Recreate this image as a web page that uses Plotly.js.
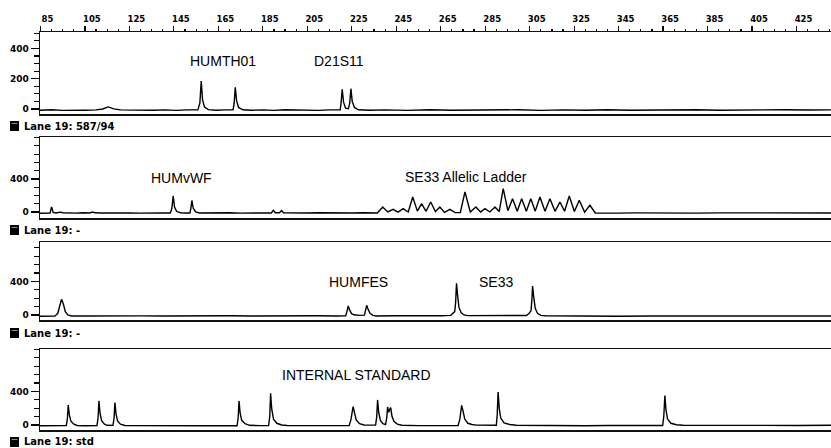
<!DOCTYPE html>
<html>
<head>
<meta charset="utf-8">
<script src="https://cdn.plot.ly/plotly-3.0.1.min.js"></script>
<style>
html,body{margin:0;padding:0;background:#fff;}
#chart{width:831px;height:448px;}
</style>
</head>
<body>
<div id="chart"></div>
<script>
// ---- Data (x = size in bp, y = signal) ----
const xTickVals = [85, 105, 125, 145, 165, 185, 205, 225, 245, 265, 285, 305, 325, 345, 365, 385, 405, 425];
const xTickText = ["85", "105", "125", "145", "165", "185", "205", "225", "245", "265", "285", "305", "325", "345", "365", "385", "405", "425"];
const y1TickVals = [0, 200, 400];
const yTickVals = [0, 400];

const laneLabels = ["Lane 19: 587/94", "Lane 19: -", "Lane 19: -", "Lane 19: std"];
const locusNames = ["HUMTH01", "D21S11", "HUMvWF", "SE33 Allelic Ladder", "HUMFES", "SE33", "INTERNAL STANDARD"];
const locusX = [167.1, 219.2, 148.6, 276.5, 227.8, 290.0, 227.1];
const locusY = [317, 317, 411, 424, 395, 395, 595];
const locusPanel = [1, 1, 2, 2, 3, 3, 4];

const lane1 = [[84.8,-8],[90,-5],[95,-9],[100,-6],[105,-8],[110,-6],[113,0],[115.5,14],[118,1],[121,-6],[126,-8],[131,-5],[136,-8],[141,-6],[146,-9],[151,-6],[155.8,-6],[156.7,40],[157.3,185],[157.9,60],[158.8,12],[160.5,-4],[164,-8],[168,-6],[171.6,-6],[172.1,35],[172.6,143],[173.2,55],[174.1,10],[176,-5],[180,-8],[185,-6],[190,-9],[195,-5],[200,-8],[205,-6],[210,-9],[215,-6],[219.8,-5],[220.2,40],[220.7,130],[221.3,45],[222.2,5],[223.5,2],[224.1,40],[224.6,134],[225.2,50],[226.2,10],[228,-5],[233,-8],[240,-6],[250,-9],[260,-5],[270,-8],[280,-6],[290,-8],[300,-5],[310,-9],[320,-6],[330,-8],[340,-5],[350,-8],[360,-6],[370,-9],[380,-5],[390,-8],[400,-6],[410,-9],[420,-5],[430,-7],[440.5,-6]];

const lane2 = [[84.8,-15],[87,-12],[89.3,-14],[90,60],[90.7,-5],[92,-12],[94,-2],[95,-10],[97,-13],[99,-8],[101,-14],[104,-10],[107,-12],[108.5,0],[109.5,-10],[112,-13],[116,-10],[120,-14],[125,-11],[130,-14],[135,-10],[140,-13],[143.4,-13],[144.1,45],[144.7,194],[145.3,60],[146.3,5],[148,-10],[150,-12],[152.2,-12],[152.6,35],[153.1,139],[153.7,45],[154.8,0],[156.5,-12],[160,-10],[165,-13],[170,-10],[175,-14],[180,-11],[185,-13],[188.8,-12],[189.7,20],[190.6,-10],[192.5,-10],[193.4,18],[194.3,-10],[197,-12],[200,-9],[205,-13],[210,-10],[215,-14],[220,-11],[225,-13],[230,-10],[236.5,-12],[238.9,60],[241.2,0],[243.6,32],[245.8,-2],[248.1,40],[250.4,0],[252.4,181],[254.5,10],[256.4,100],[258.4,8],[260.5,121],[262.6,5],[264.6,60],[266.7,-5],[269.1,32],[271.5,-8],[273.8,-8],[275.9,242],[278.3,0],[280.8,60],[282.9,0],[284.9,40],[287.1,0],[289.4,60],[291.3,5],[293.1,282],[295.2,15],[297.3,161],[299.4,10],[301.4,161],[303.5,10],[305.5,161],[307.5,10],[309.6,181],[311.9,10],[314.1,161],[316.4,8],[318.6,121],[320.7,8],[322.8,194],[325.1,5],[327.3,141],[329.7,-2],[332.1,81],[334.5,-12],[338,-10],[345,-14],[352,-11],[360,-13],[370,-10],[380,-14],[390,-11],[400,-13],[410,-10],[420,-12],[430,-10],[440.5,-12]];

const lane3 = [[84.8,-15],[88,-12],[91.5,-14],[92.8,20],[93.7,110],[94.5,187],[95.3,130],[96.2,40],[97.3,0],[99,-12],[105,-13],[112,-10],[120,-14],[130,-11],[140,-13],[150,-10],[160,-12],[170,-10],[180,-13],[190,-10],[200,-12],[210,-10],[218,-12],[222.3,-10],[222.8,40],[223.4,107],[224,60],[224.9,15],[226,2],[228.5,-5],[230.7,-2],[231.2,50],[231.7,115],[232.3,70],[233.2,20],[234.5,-5],[236,-12],[245,-10],[255,-13],[265,-10],[269.5,-5],[270.6,25],[271.3,40],[271.7,150],[272.1,377],[272.6,230],[273.2,90],[274.2,25],[275.5,0],[277,-8],[285,-10],[292,-8],[300,-10],[303.5,-6],[304.8,20],[305.6,50],[306.0,180],[306.3,345],[306.8,220],[307.5,80],[308.5,20],[310,-5],[312,-10],[320,-13],[330,-12],[345,-15],[360,-12],[380,-14],[400,-12],[420,-14],[440.5,-12]];

const lane4 = [[84.8,-10],[90,-8],[95,-10],[96.6,-8],[97.1,70],[97.5,238],[98,120],[98.7,45],[100,10],[101.5,-6],[105,-9],[110.4,-8],[110.9,80],[111.3,286],[111.8,140],[112.5,50],[113.8,10],[115,-4],[117.6,-5],[118.1,80],[118.5,266],[119,130],[119.7,45],[121,10],[123,-6],[130,-8],[140,-10],[150,-8],[160,-10],[170,-8],[173.4,-10],[173.9,80],[174.3,286],[174.8,140],[175.5,55],[177,15],[179,-4],[184,-8],[187.6,-8],[188.1,100],[188.5,377],[189,190],[189.8,70],[191.3,20],[193.5,0],[196,-6],[205,-8],[215,-10],[223.8,-8],[224.6,60],[225.1,170],[225.6,218],[226.2,150],[227,60],[228.5,15],[230.5,0],[235.7,-2],[236.2,90],[236.6,298],[237.1,150],[237.9,50],[239,15],[240.2,5],[240.7,80],[241.1,214],[241.6,150],[242.0,180],[242.5,206],[243.1,100],[244,40],[245.5,10],[247.5,-4],[255,-8],[265,-6],[272.8,-6],[273.6,70],[274.0,190],[274.4,234],[275,170],[275.8,70],[277.2,20],[279,5],[281,-2],[288.5,-5],[290,-4],[290.4,120],[290.8,393],[291.3,200],[292,80],[293.5,25],[296,5],[299,-4],[310,-8],[320,-6],[330,-9],[340,-6],[350,-8],[360,-7],[364.8,-6],[365.3,100],[365.8,349],[366.3,180],[367,70],[368.5,20],[371,3],[374,-4],[385,-6],[395,-4],[405,-7],[415,-3],[425,-6],[440.5,-4]];

// ---- Layout helpers (pixel geometry of the page) ----
const W = 831, H = 448, ML = 40, MT = 32, MB = 18;
const plotH = H - MT - MB;
const plotW = W - ML;
const py = p => (H - MB - p) / plotH;
const px = p => (p - ML) / plotW;

const lanes = [lane1, lane2, lane3, lane4];
const traces = lanes.map((pts, i) => ({
  type: 'scatter', mode: 'lines',
  x: pts.map(p => p[0]), y: pts.map(p => p[1]),
  xaxis: i === 0 ? 'x' : 'x' + (i + 1),
  yaxis: i === 0 ? 'y' : 'y' + (i + 1),
  line: {color: '#000', width: 1.4},
  hoverinfo: 'skip', showlegend: false
}));

const tickFont = {family: 'DejaVu Sans', size: 9, weight: 'bold', color: '#000'};
const xRange = [84.8, 440.5];

const baseX = {
  range: xRange, showline: true, linecolor: '#111', linewidth: 1.5, mirror: true,
  showgrid: false, zeroline: false
};
const layout = {
  width: W, height: H,
  margin: {l: ML, r: 0, t: MT, b: MB, pad: 0},
  paper_bgcolor: '#fff', plot_bgcolor: '#fff',
  showlegend: false,
  xaxis: Object.assign({}, baseX, {
    anchor: 'y', side: 'top', tickmode: 'array', tickvals: xTickVals, ticktext: xTickText,
    ticks: 'outside', ticklen: 5, tickcolor: '#000', tickwidth: 1.2,
    tickfont: {family: 'DejaVu Sans', size: 8.5, weight: 'bold', color: '#000'},
    ticklabelshift: 7, ticklabelstandoff: 0,
    minor: {tickmode: 'linear', tick0: 85, dtick: 5, ticks: 'outside', ticklen: 2, tickcolor: '#000', tickwidth: 1.2}
  }),
  xaxis2: Object.assign({}, baseX, {anchor: 'y2', matches: 'x', showticklabels: false, ticks: ''}),
  xaxis3: Object.assign({}, baseX, {anchor: 'y3', matches: 'x', showticklabels: false, ticks: ''}),
  xaxis4: Object.assign({}, baseX, {anchor: 'y4', matches: 'x', showticklabels: false, ticks: ''}),
  annotations: [], shapes: []
};

const yDomains = [[py(114), py(32)], [py(218), py(137)], [py(320), py(242)], [0, py(349)]];
const yRanges = [[-33, 508], [-73, 907], [-60, 869], [-60, 904]];
for (let i = 0; i < 4; i++) {
  const key = i === 0 ? 'yaxis' : 'yaxis' + (i + 1);
  layout[key] = {
    domain: yDomains[i], range: yRanges[i], anchor: i === 0 ? 'x' : 'x' + (i + 1),
    tickmode: 'array', tickvals: i === 0 ? y1TickVals : yTickVals,
    ticks: 'outside', ticklen: 8, tickcolor: '#000', tickwidth: 1.2, tickfont: tickFont,
    showline: true, linecolor: '#111', linewidth: 1.5, showgrid: false, zeroline: false,
    minor: {tickmode: 'linear', tick0: 0, dtick: i === 0 ? 50 : 100, ticks: 'outside', ticklen: 5, tickcolor: '#000', tickwidth: 1.2}
  };
}

for (let k = 0; k < locusNames.length; k++) {
  const p = locusPanel[k];
  layout.annotations.push({
    text: locusNames[k], x: locusX[k], y: locusY[k],
    xref: p === 1 ? 'x' : 'x' + p, yref: p === 1 ? 'y' : 'y' + p,
    showarrow: false, xanchor: 'center', yanchor: 'middle',
    font: {family: 'Liberation Sans, Arial, sans-serif', size: 14, color: '#000'}
  });
}

const laneY = [126, 230, 333, 442];
for (let i = 0; i < 4; i++) {
  layout.annotations.push({
    text: laneLabels[i], xref: 'paper', yref: 'paper',
    x: px(22), y: py(laneY[i]), xanchor: 'left', yanchor: 'middle', showarrow: false,
    font: {family: 'DejaVu Sans', size: 10, weight: 'bold', color: '#000'}
  });
  layout.shapes.push({
    type: 'rect', xref: 'paper', yref: 'paper',
    x0: px(10), x1: px(19), y0: py(laneY[i] + 5), y1: py(laneY[i] - 5),
    fillcolor: '#000', line: {width: 0}
  });
  layout.shapes.push({
    type: 'line', xref: 'paper', yref: 'paper',
    x0: px(11.5), x1: px(17.5), y0: py(laneY[i] - 2.5), y1: py(laneY[i] - 2.5),
    line: {color: '#888', width: 1}
  });
}

Plotly.newPlot('chart', traces, layout, {staticPlot: true, displayModeBar: false});
</script>
</body>
</html>
